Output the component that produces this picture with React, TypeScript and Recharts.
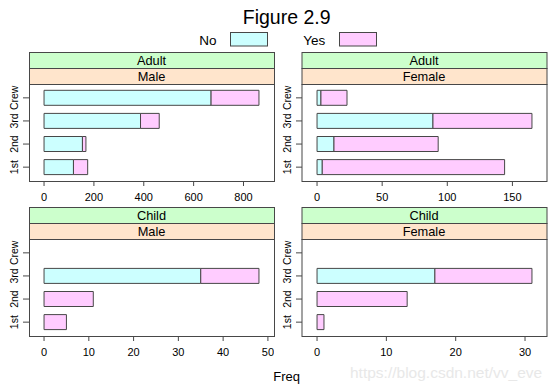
import React from "react";
import { BarChart, Bar, XAxis, YAxis } from "recharts";

// Titanic survivors, by class
const classes = ["1st", "2nd", "3rd", "Crew"];

const adultMaleNo = [118, 154, 387, 670];
const adultMaleYes = [57, 14, 75, 192];
const adultFemaleNo = [4, 13, 89, 3];
const adultFemaleYes = [140, 80, 76, 20];
const childMaleNo = [0, 0, 35, 0];
const childMaleYes = [5, 11, 13, 0];
const childFemaleNo = [0, 0, 17, 0];
const childFemaleYes = [1, 13, 14, 0];

const adultMaleTicks = [0, 200, 400, 600, 800];
const adultFemaleTicks = [0, 50, 100, 150];
const childMaleTicks = [0, 10, 20, 30, 40, 50];
const childFemaleTicks = [0, 10, 20, 30];

const FONT = "'Liberation Sans', Arial, sans-serif";
const NO_COL = "#CCFFFF";
const YES_COL = "#FFCCFF";
const LINE = "#474747";

const BOX_W = 245;
const BOX_H = 97;
const AXIS_W = 29;
const AXIS_H = 25;

function YTick(props: any) {
    const { x, y, payload } = props;
    const cx = x - 7;
    return (
        <text
            x={cx}
            y={y}
            transform={`rotate(-90 ${cx} ${y})`}
            textAnchor="middle"
            dominantBaseline="central"
            fontSize={10.5}
            fontFamily={FONT}
            fill="#000"
        >
            {classes[payload.value - 1]}
        </text>
    );
}

interface PanelProps {
    left: number;
    top: number;
    no: number[];
    yes: number[];
    ticks: number[];
}

function Panel({ left, top, no, yes, ticks }: PanelProps) {
    const rows = classes.map((c, i) => ({ cls: c, pos: i + 1, No: no[i], Yes: yes[i] }));
    const max = Math.max(...rows.map(r => r.No + r.Yes));
    // lattice pads the range by 7% on each side
    const domain = [-0.07 * max, 1.07 * max];

    return (
        <div style={{ position: "absolute", left: left - AXIS_W, top }}>
            <BarChart
                width={BOX_W + AXIS_W}
                height={BOX_H + AXIS_H}
                data={rows}
                layout="vertical"
                margin={{ top: 0, right: 0, bottom: 0, left: 0 }}
            >
                <XAxis
                    type="number"
                    domain={domain}
                    ticks={ticks}
                    interval={0}
                    allowDataOverflow
                    axisLine={false}
                    tickLine={{ stroke: LINE }}
                    tickSize={5}
                    tickMargin={7}
                    height={AXIS_H}
                    tick={{ fontSize: 11, fill: "#000", fontFamily: FONT }}
                />
                <YAxis
                    type="number"
                    dataKey="pos"
                    domain={[0.4, 4.6]}
                    ticks={[1, 2, 3, 4]}
                    interval={0}
                    reversed
                    allowDataOverflow
                    axisLine={false}
                    tickLine={{ stroke: LINE }}
                    tickSize={6}
                    tickMargin={2}
                    width={AXIS_W}
                    tick={<YTick />}
                />
                <Bar dataKey="No" stackId="s" fill={NO_COL} stroke={LINE} barSize={15} isAnimationActive={false} />
                <Bar dataKey="Yes" stackId="s" fill={YES_COL} stroke={LINE} barSize={15} isAnimationActive={false} />
            </BarChart>
        </div>
    );
}

function Strips({ left, top, age, sex }: { left: number; top: number; age: string; sex: string }) {
    const cx = left + BOX_W / 2;
    return (
        <g>
            <rect x={left + 0.5} y={top + 0.5} width={BOX_W} height={16} fill="#CCFFCC" stroke={LINE} />
            <rect x={left + 0.5} y={top + 16.5} width={BOX_W} height={16} fill="#FFE5CC" stroke={LINE} />
            <text x={cx} y={top + 13.4} textAnchor="middle" fontSize={12.8} fontFamily={FONT} fill="#000">{age}</text>
            <text x={cx} y={top + 29.4} textAnchor="middle" fontSize={12.8} fontFamily={FONT} fill="#000">{sex}</text>
            <rect x={left + 0.5} y={top + 32.5} width={BOX_W} height={BOX_H} fill="none" stroke={LINE} />
        </g>
    );
}

export default function App() {
    const L1 = 29;
    const L2 = 301.5;
    const T1 = 84;
    const T2 = 239;

    return (
        <div style={{ position: "absolute", left: 0, top: 0, width: 554, height: 390, background: "#fff", fontFamily: FONT }}>
            <Panel left={L1} top={T1} no={adultMaleNo} yes={adultMaleYes} ticks={adultMaleTicks} />
            <Panel left={L2} top={T1} no={adultFemaleNo} yes={adultFemaleYes} ticks={adultFemaleTicks} />
            <Panel left={L1} top={T2} no={childMaleNo} yes={childMaleYes} ticks={childMaleTicks} />
            <Panel left={L2} top={T2} no={childFemaleNo} yes={childFemaleYes} ticks={childFemaleTicks} />

            <svg width={554} height={390} style={{ position: "absolute", left: 0, top: 0, pointerEvents: "none" }}>
                <text x={286.7} y={24.3} textAnchor="middle" fontSize={19.5} fontFamily={FONT} fill="#000">Figure 2.9</text>

                <text x={199.3} y={44.5} fontSize={13.5} fontFamily={FONT} fill="#000">No</text>
                <rect x={230.5} y={32.5} width={37} height={13.5} fill={NO_COL} stroke={LINE} />
                <text x={303.3} y={44.5} fontSize={13.5} fontFamily={FONT} fill="#000">Yes</text>
                <rect x={339.5} y={32.5} width={37} height={13.5} fill={YES_COL} stroke={LINE} />

                <Strips left={L1} top={T1 - 32} age="Adult" sex="Male" />
                <Strips left={L2} top={T1 - 32} age="Adult" sex="Female" />
                <Strips left={L1} top={T2 - 32} age="Child" sex="Male" />
                <Strips left={L2} top={T2 - 32} age="Child" sex="Female" />

                <text x={286.7} y={381} textAnchor="middle" fontSize={13} fontFamily={FONT} fill="#000">Freq</text>
                <text x={350} y={378} fontSize={15.5} fontFamily={FONT} fill="#e8e8e8">https://blog.csdn.net/vv_eve</text>
            </svg>
        </div>
    );
}
